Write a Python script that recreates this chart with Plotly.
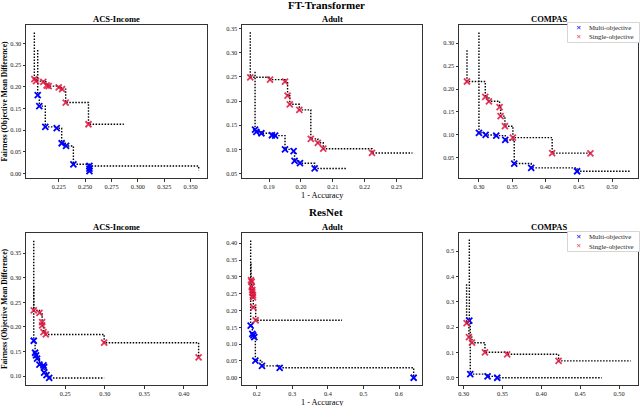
import plotly.graph_objects as go
from plotly.subplots import make_subplots

models = ["FT-Transformer", "ResNet"]
datasets = ["ACS-Income", "Adult", "COMPAS"]
series_names = ["Multi-objective", "Single-objective"]

# --- FT-Transformer ---
ft_acs_multi_x = [0.2051, 0.2066, 0.2123, 0.2231, 0.2278, 0.2320, 0.2389, 0.2541, 0.2541, 0.2541]
ft_acs_multi_y = [0.1808, 0.1554, 0.1077, 0.1046, 0.0700, 0.0638, 0.0215, 0.0060, 0.0115, 0.0177]
ft_acs_single_x = [0.2019, 0.2035, 0.2104, 0.2136, 0.2155, 0.2250, 0.2282, 0.2316, 0.2532]
ft_acs_single_y = [0.2177, 0.2130, 0.2115, 0.2030, 0.2015, 0.1985, 0.1946, 0.1638, 0.1138]

ft_adult_multi_x = [0.1856, 0.1860, 0.1876, 0.1909, 0.1919, 0.1950, 0.1977, 0.1980, 0.1997, 0.2043]
ft_adult_multi_y = [0.1410, 0.1362, 0.1335, 0.1294, 0.1287, 0.1002, 0.0968, 0.0765, 0.0717, 0.0609]
ft_adult_single_x = [0.1841, 0.1903, 0.1950, 0.1958, 0.1965, 0.1995, 0.2031, 0.2053, 0.2070, 0.2223]
ft_adult_single_y = [0.2489, 0.2441, 0.2400, 0.2109, 0.1932, 0.1817, 0.1219, 0.1138, 0.1016, 0.0928]

ft_compas_multi_x = [0.3000, 0.3100, 0.3260, 0.3395, 0.3530, 0.3785, 0.4475]
ft_compas_multi_y = [0.1043, 0.0999, 0.0984, 0.0889, 0.0375, 0.0280, 0.0207]
ft_compas_single_x = [0.2820, 0.3095, 0.3150, 0.3310, 0.3325, 0.3390, 0.3510, 0.4100, 0.4675]
ft_compas_single_y = [0.2164, 0.1827, 0.1732, 0.1607, 0.1409, 0.1189, 0.0940, 0.0603, 0.0595]

# --- ResNet ---
rn_acs_multi_x = [0.2102, 0.2119, 0.2131, 0.2144, 0.2174, 0.2225, 0.2233, 0.2233, 0.2263, 0.2297]
rn_acs_multi_y = [0.1718, 0.1474, 0.1420, 0.1352, 0.1230, 0.1217, 0.1183, 0.1068, 0.1020, 0.0960]
rn_acs_single_x = [0.2102, 0.2174, 0.2208, 0.2208, 0.2225, 0.2254, 0.2992, 0.4186]
rn_acs_single_y = [0.2335, 0.2287, 0.2098, 0.2030, 0.1894, 0.1847, 0.1678, 0.1379]

rn_adult_multi_x = [0.1831, 0.1878, 0.1906, 0.1934, 0.1963, 0.2150, 0.2646, 0.6412]
rn_adult_multi_y = [0.1553, 0.1307, 0.1258, 0.1209, 0.0511, 0.0354, 0.0295, 0.0000]
rn_adult_single_x = [0.1841, 0.1860, 0.1860, 0.1878, 0.1878, 0.1897, 0.1897, 0.1906, 0.1972]
rn_adult_single_y = [0.2900, 0.2850, 0.2710, 0.2610, 0.2536, 0.2457, 0.2388, 0.2093, 0.1710]

rn_compas_multi_x = [0.3073, 0.3085, 0.3308, 0.3432]
rn_compas_multi_y = [0.2258, 0.0144, 0.0052, 0.0000]
rn_compas_single_x = [0.3038, 0.3068, 0.3107, 0.3274, 0.3560, 0.4222]
rn_compas_single_y = [0.2154, 0.1606, 0.1384, 0.1005, 0.0927, 0.0666]

# where each dotted front starts (top y) and where it stops (end x, end y)
# order: FT acs, FT adult, FT compas, RN acs, RN adult, RN compas
multi_top = [0.2846, 0.2604, 0.3235, 0.2830, 0.4080, 0.5460]
multi_end_x = [0.3576, 0.2145, 0.5275, 0.2992, 0.6412, 0.4778]
multi_end_y = [0.0077, 0.0609, 0.0207, 0.0960, 0.0000, 0.0000]
single_top = [0.3250, 0.3419, 0.2846, 0.3757, 0.3400, 0.3690]
single_end_x = [0.2867, 0.2350, 0.4675, 0.4186, 0.4400, 0.5150]
single_end_y = [0.1138, 0.0928, 0.0595, 0.1379, 0.1710, 0.0666]

multi_x = [ft_acs_multi_x, ft_adult_multi_x, ft_compas_multi_x, rn_acs_multi_x, rn_adult_multi_x, rn_compas_multi_x]
multi_y = [ft_acs_multi_y, ft_adult_multi_y, ft_compas_multi_y, rn_acs_multi_y, rn_adult_multi_y, rn_compas_multi_y]
single_x = [ft_acs_single_x, ft_adult_single_x, ft_compas_single_x, rn_acs_single_x, rn_adult_single_x, rn_compas_single_x]
single_y = [ft_acs_single_y, ft_adult_single_y, ft_compas_single_y, rn_acs_single_y, rn_adult_single_y, rn_compas_single_y]

# tick labels per panel
x_ticks = [
    ["0.225", "0.250", "0.275", "0.300", "0.325", "0.350"],
    ["0.19", "0.20", "0.21", "0.22", "0.23"],
    ["0.30", "0.35", "0.40", "0.45", "0.50"],
    ["0.25", "0.30", "0.35", "0.40"],
    ["0.2", "0.3", "0.4", "0.5", "0.6"],
    ["0.30", "0.35", "0.40", "0.45", "0.50"],
]
y_ticks = [
    ["0.00", "0.05", "0.10", "0.15", "0.20", "0.25", "0.30"],
    ["0.05", "0.10", "0.15", "0.20", "0.25", "0.30", "0.35"],
    ["0.05", "0.10", "0.15", "0.20", "0.25", "0.30"],
    ["0.10", "0.15", "0.20", "0.25", "0.30", "0.35"],
    ["0.00", "0.05", "0.10", "0.15", "0.20", "0.25", "0.30", "0.35", "0.40"],
    ["0.0", "0.1", "0.2", "0.3", "0.4", "0.5"],
]

# visible axis window per panel
x_ranges = [[0.194, 0.3655], [0.1815, 0.238], [0.27, 0.539], [0.2004, 0.4292], [0.1588, 0.6646], [0.294, 0.5244]]
y_ranges = [[-0.01, 0.3423], [0.0412, 0.3568], [0.006, 0.3396], [0.0817, 0.3913], [-0.0216, 0.4305], [-0.0287, 0.572]]

BLUE = "#0000ff"
RED = "rgba(225,20,60,0.85)"
SERIF = "Liberation Serif"
W, H = 640, 406

col_px = [(26, 207), (242, 422), (459, 638)]
row_px = [(25, 178), (233, 385)]

fig = make_subplots(rows=2, cols=3)


def step_line(xs, ys, top, ex, ey):
    return [xs[0]] + list(xs) + [ex], [top] + list(ys) + [ey]


for i in range(6):
    r, c = i // 3 + 1, i % 3 + 1
    for xs, ys, top, ex, ey in [
        (multi_x[i], multi_y[i], multi_top[i], multi_end_x[i], multi_end_y[i]),
        (single_x[i], single_y[i], single_top[i], single_end_x[i], single_end_y[i]),
    ]:
        lx, ly = step_line(xs, ys, top, ex, ey)
        fig.add_trace(go.Scatter(x=lx, y=ly, mode="lines", line_shape="hv",
                                 line=dict(color="black", width=1.4, dash="1.5px,1.5px"),
                                 showlegend=False, hoverinfo="skip"), row=r, col=c)
    for xs, ys, color, name in [(multi_x[i], multi_y[i], BLUE, series_names[0]),
                                (single_x[i], single_y[i], RED, series_names[1])]:
        fig.add_trace(go.Scatter(x=xs, y=ys, mode="markers", name=name,
                                 marker=dict(symbol="x-thin", size=6,
                                             line=dict(width=1.8, color=color)),
                                 showlegend=False), row=r, col=c)

    x0, x1 = col_px[c - 1]
    y0, y1 = row_px[r - 1]
    axis_style = dict(showline=True, mirror=True, linecolor="#333", linewidth=1,
                      ticks="outside", ticklen=2.5, tickwidth=0.8, tickcolor="#333",
                      showgrid=False, zeroline=False,
                      tickfont=dict(family=SERIF, size=6.3, color="#222"))
    fig.update_xaxes(domain=[x0 / W, x1 / W], range=x_ranges[i],
                     tickvals=[float(t) for t in x_ticks[i]], ticktext=x_ticks[i],
                     row=r, col=c, **axis_style)
    fig.update_yaxes(domain=[1 - y1 / H, 1 - y0 / H], range=y_ranges[i],
                     tickvals=[float(t) for t in y_ticks[i]], ticktext=y_ticks[i],
                     row=r, col=c, **axis_style)

annotations = []
# model titles
for m, ypx in zip(models, [5, 212]):
    annotations.append(dict(text="<b>%s</b>" % m, x=326 / W, y=1 - ypx / H, xref="paper", yref="paper",
                            showarrow=False, font=dict(family=SERIF, size=11, color="black"),
                            xanchor="center", yanchor="middle"))
# dataset titles
for r, ypx in enumerate([19, 227]):
    for c, d in enumerate(datasets):
        x0, x1 = col_px[c]
        annotations.append(dict(text="<b>%s</b>" % d, x=(x0 + x1) / 2 / W, y=1 - ypx / H,
                                xref="paper", yref="paper", showarrow=False,
                                font=dict(family=SERIF, size=8.5, color="black"),
                                xanchor="center", yanchor="middle"))
    # y axis title
    y0, y1 = row_px[r]
    annotations.append(dict(text="<b>Fairness (Objective Mean Difference)</b>", x=4 / W,
                            y=1 - (y0 + y1) / 2 / H, xref="paper", yref="paper", showarrow=False,
                            textangle=-90, font=dict(family=SERIF, size=7.5, color="black"),
                            xanchor="center", yanchor="middle"))
# x axis titles
for ypx in [195, 402]:
    annotations.append(dict(text="1 - Accuracy", x=322 / W, y=1 - ypx / H, xref="paper", yref="paper",
                            showarrow=False, font=dict(family=SERIF, size=8.3, color="black"),
                            xanchor="center", yanchor="middle"))

# legends (compact, drawn to match the reference box)
shapes = []
for top_px in [22.5, 231.5]:
    shapes.append(dict(type="rect", xref="paper", yref="paper", x0=567.5 / W, x1=639.5 / W,
                       y0=1 - (top_px + 20) / H, y1=1 - top_px / H, fillcolor="white",
                       line=dict(color="#cccccc", width=0.8), layer="above"))
    for k, (name, color) in enumerate(zip(series_names, [BLUE, RED])):
        ypx = top_px + 5 + 9.5 * k
        annotations.append(dict(text="✕", x=578 / W, y=1 - ypx / H, xref="paper", yref="paper",
                                showarrow=False, font=dict(family="DejaVu Sans", size=6.5, color=color),
                                xanchor="center", yanchor="middle"))
        annotations.append(dict(text=name, x=587 / W, y=1 - ypx / H, xref="paper", yref="paper",
                                showarrow=False, font=dict(family=SERIF, size=6.8, color="#222"),
                                xanchor="left", yanchor="middle"))

fig.update_layout(width=W, height=H, margin=dict(l=0, r=0, t=0, b=0),
                  plot_bgcolor="white", paper_bgcolor="white",
                  annotations=annotations, shapes=shapes, showlegend=False)

# drop the default page margin so the figure sits at the window's top-left corner
fig.write_html("out.html", config={"displayModeBar": False},
               post_script="document.body.style.margin='0';")
